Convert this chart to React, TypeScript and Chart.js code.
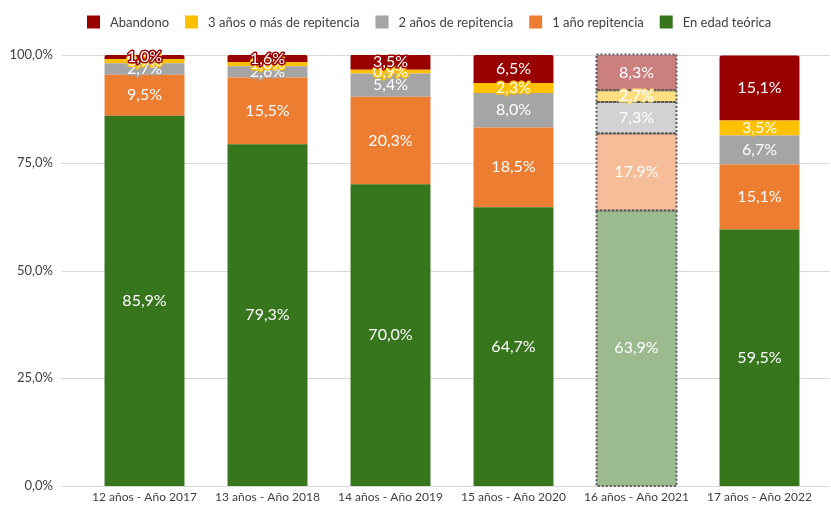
import React, { useEffect, useRef } from "react";
import { Chart, registerables } from "chart.js";

Chart.register(...registerables);

const categories = [
  "12 años - Año 2017",
  "13 años - Año 2018",
  "14 años - Año 2019",
  "15 años - Año 2020",
  "16 años - Año 2021",
  "17 años - Año 2022",
];
const enEdadTeorica = [85.9, 79.3, 70.0, 64.7, 63.9, 59.5];
const unAnioRepitencia = [9.5, 15.5, 20.3, 18.5, 17.9, 15.1];
const dosAniosRepitencia = [2.7, 2.6, 5.4, 8.0, 7.3, 6.7];
const tresAniosRepitencia = [0.9, 1.0, 0.9, 2.3, 2.7, 3.5];
const abandono = [1.0, 1.6, 3.5, 6.5, 8.3, 15.1];
const yTicks = [0, 25, 50, 75, 100];

const FONT = "Lato, 'Open Sans', sans-serif";
const HIGHLIGHT = 4; // dotted / lighter bar

const seriesDefs = [
  { label: "En edad teórica", data: enEdadTeorica, color: "#38761d", light: "#9bba8e" },
  { label: "1 año repitencia", data: unAnioRepitencia, color: "#ed7d31", light: "#f6be98" },
  { label: "2 años de repitencia", data: dosAniosRepitencia, color: "#a5a5a5", light: "#d2d2d2" },
  { label: "3 años o más de repitencia", data: tresAniosRepitencia, color: "#ffc000", light: "#ffdf80" },
  { label: "Abandono", data: abandono, color: "#990000", light: "#cc7f7f" },
];

const fmt = (v: number) => v.toFixed(1).replace(".", ",") + "%";

const gridPlugin = {
  id: "wideGrid",
  beforeDatasetsDraw(chart: any) {
    const ctx = chart.ctx;
    const y = chart.scales.y;
    ctx.save();
    ctx.strokeStyle = "#d9d9d9";
    ctx.lineWidth = 1;
    yTicks.forEach((t) => {
      const py = Math.round(y.getPixelForValue(t)) + 0.5;
      ctx.beginPath();
      ctx.moveTo(61, py);
      ctx.lineTo(830, py);
      ctx.stroke();
    });
    ctx.restore();
  },
};

const legendPlugin = {
  id: "customLegend",
  afterDraw(chart: any) {
    const ctx = chart.ctx;
    ctx.save();
    ctx.font = `13px ${FONT}`;
    ctx.textBaseline = "middle";
    const items = [...seriesDefs].reverse();
    const box = 13;
    const gapText = 10;
    const gapItem = 16;
    let x = 87;
    const cy = 22;
    items.forEach((it) => {
      ctx.fillStyle = it.color;
      ctx.fillRect(x, cy - box / 2, box, box);
      x += box + gapText;
      ctx.fillStyle = "#404040";
      ctx.fillText(it.label, x, cy + 1);
      x += ctx.measureText(it.label).width + gapItem;
    });
    ctx.restore();
  },
};

const labelPlugin = {
  id: "segLabels",
  afterDatasetsDraw(chart: any) {
    const ctx = chart.ctx;
    ctx.save();
    ctx.strokeStyle = "#595959";
    ctx.lineWidth = 2;
    ctx.setLineDash([2, 2]);
    chart.data.datasets.forEach((ds: any, di: number) => {
      const el = chart.getDatasetMeta(di).data[HIGHLIGHT];
      if (!el) return;
      const p = el.getProps(["x", "y", "base", "width"], true);
      ctx.strokeRect(p.x - p.width / 2, p.y, p.width, p.base - p.y);
    });
    ctx.setLineDash([]);
    ctx.font = `16px ${FONT}`;
    ctx.textAlign = "center";
    ctx.textBaseline = "middle";
    ctx.lineJoin = "round";
    chart.data.datasets.forEach((ds: any, di: number) => {
      const meta = chart.getDatasetMeta(di);
      meta.data.forEach((el: any, i: number) => {
        const p = el.getProps(["x", "y", "base"], true);
        const cy = (p.y + p.base) / 2;
        const txt = fmt(ds.data[i]);
        const bg = Array.isArray(ds.backgroundColor) ? ds.backgroundColor[i] : ds.backgroundColor;
        ctx.lineWidth = 3;
        ctx.strokeStyle = bg;
        ctx.strokeText(txt, p.x, cy);
        ctx.fillStyle = "#ffffff";
        ctx.fillText(txt, p.x, cy);
      });
    });
    ctx.restore();
  },
};

export default function App() {
  const ref = useRef<HTMLCanvasElement>(null);
  useEffect(() => {
    document.body.style.margin = "0";
    if (!ref.current) return;
    const chart = new Chart(ref.current, {
      type: "bar",
      data: {
        labels: categories,
        datasets: seriesDefs.map((s, idx) => ({
          label: s.label,
          data: s.data,
          backgroundColor: s.data.map((_, i) => (i === HIGHLIGHT ? s.light : s.color)),
          borderWidth: 0,
          borderRadius: idx === seriesDefs.length - 1 ? { topLeft: 2, topRight: 2, bottomLeft: 0, bottomRight: 0 } : 0,
          borderSkipped: false,
          barPercentage: 0.65,
          categoryPercentage: 1,
        })),
      },
      options: {
        responsive: false,
        maintainAspectRatio: false,
        animation: false,
        layout: { padding: { top: 55, right: 10, bottom: 0, left: 0 } },
        plugins: {
          legend: { display: false },
          tooltip: { enabled: false },
        },
        scales: {
          x: {
            stacked: true,
            grid: { display: false, drawTicks: false },
            border: { display: false },
            ticks: { color: "#404040", font: { family: FONT, size: 12 }, padding: 4, maxRotation: 0, autoSkip: false },
            afterFit(scale: any) {
              scale.height = 19;
              scale.paddingLeft = 0;
              scale.paddingRight = 0;
            },
          },
          y: {
            stacked: true,
            min: 0,
            max: 100,
            grid: { display: false, drawTicks: false },
            border: { display: false },
            ticks: {
              stepSize: 25,
              color: "#404040",
              font: { family: FONT, size: 13 },
              padding: 30,
              callback: (v: any) => fmt(Number(v)),
            },
            afterFit(scale: any) {
              scale.width = 83;
              scale.paddingTop = 0;
              scale.paddingBottom = 0;
            },
          },
        },
      },
      plugins: [gridPlugin, labelPlugin, legendPlugin],
    });
    return () => chart.destroy();
  }, []);
  return (
    <div style={{ position: "absolute", left: 0, top: 0, width: 831, height: 505, background: "#fff" }}>
      <canvas ref={ref} width={831} height={505} style={{ display: "block", width: 831, height: 505 }} />
    </div>
  );
}
